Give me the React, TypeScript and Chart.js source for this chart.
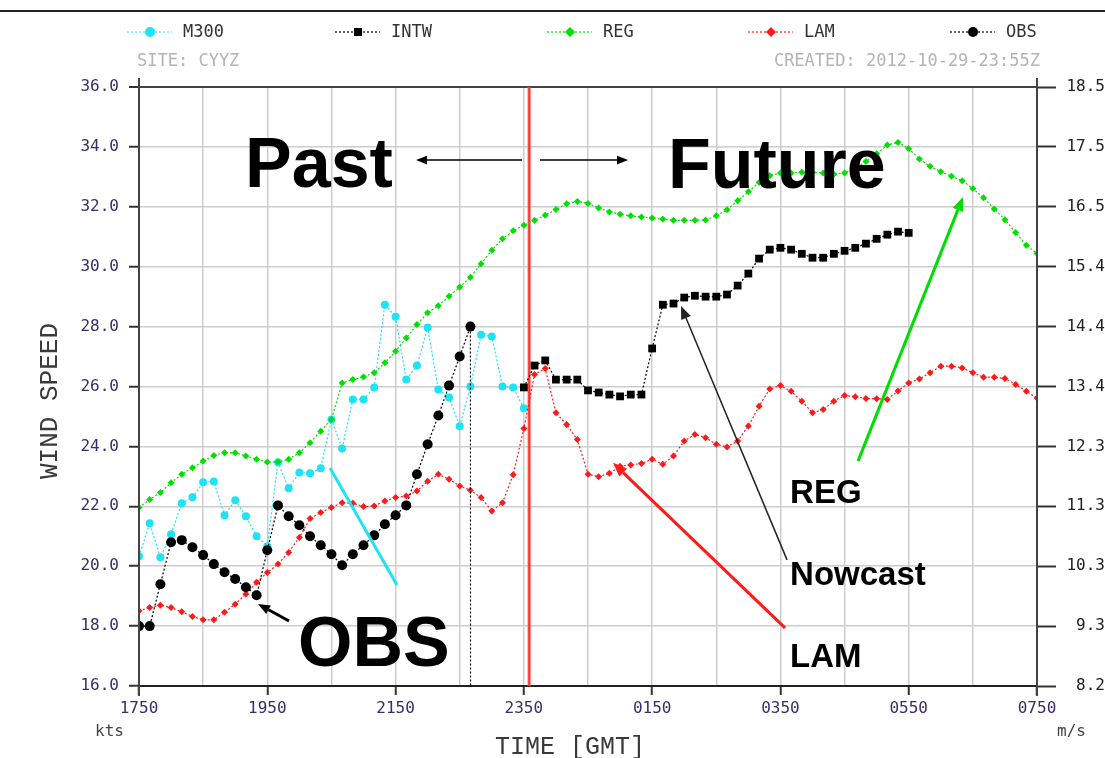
import React, { useEffect, useRef } from 'react';
import { Chart, registerables } from 'chart.js';

Chart.register(...registerables);

const W = 1105;
const H = 758;

// ---- axes / ticks ----
const STEP_MIN = 10; // every series is sampled every 10 minutes from 17:50Z
const X_MAX_H = 14;
const Y_MIN = 16;
const Y_MAX = 36;
const Y_STEP = 2;
const NOW_H = 6 + 5 / 60; // 23:55Z, "CREATED" time
const X_TICK_LABELS = ['1750', '1950', '2150', '2350', '0150', '0350', '0550', '0750'];
const LEFT_TICK_LABELS = ['16.0', '18.0', '20.0', '22.0', '24.0', '26.0', '28.0', '30.0', '32.0', '34.0', '36.0'];
const RIGHT_TICK_LABELS = ['8.2', '9.3', '10.3', '11.3', '12.3', '13.4', '14.4', '15.4', '16.5', '17.5', '18.5'];

// ---- series (kts) ----
const M300_START = 0;
const M300 = [20.33, 21.43, 20.3, 21.07, 22.1, 22.3, 22.8, 22.83, 21.7, 22.2, 21.67, 21.0, 20.67, 23.47, 22.6, 23.13, 23.1, 23.27, 24.9, 23.93, 25.57, 25.57, 25.97, 28.73, 28.33, 26.23, 26.7, 27.97, 25.9, 25.63, 24.67, 26.0, 27.73, 27.67, 26.0, 25.97, 25.27];

const INTW_START = 36;
const INTW = [25.97, 26.7, 26.87, 26.23, 26.23, 26.23, 25.87, 25.8, 25.73, 25.67, 25.73, 25.73, 27.27, 28.73, 28.77, 28.97, 29.03, 29.0, 29.0, 29.07, 29.37, 29.77, 30.27, 30.57, 30.63, 30.57, 30.43, 30.3, 30.3, 30.43, 30.53, 30.63, 30.77, 30.93, 31.07, 31.17, 31.13];

const REG_START = 0;
const REG = [21.96, 22.23, 22.46, 22.79, 23.07, 23.29, 23.51, 23.7, 23.79, 23.79, 23.68, 23.57, 23.48, 23.48, 23.57, 23.79, 24.12, 24.51, 24.9, 26.12, 26.23, 26.32, 26.46, 26.79, 27.18, 27.62, 28.07, 28.46, 28.7, 29.01, 29.32, 29.65, 30.1, 30.55, 30.93, 31.2, 31.38, 31.55, 31.72, 31.91, 32.1, 32.18, 32.11, 31.96, 31.83, 31.75, 31.7, 31.66, 31.63, 31.59, 31.55, 31.55, 31.55, 31.56, 31.7, 31.9, 32.2, 32.5, 32.81, 33.04, 33.13, 33.13, 33.15, 33.15, 33.13, 33.09, 33.13, 33.29, 33.51, 33.77, 34.06, 34.15, 33.94, 33.6, 33.35, 33.17, 33.02, 32.87, 32.61, 32.3, 31.93, 31.57, 31.14, 30.72, 30.44];

const LAM_START = 0;
const LAM = [18.51, 18.62, 18.7, 18.62, 18.48, 18.32, 18.21, 18.21, 18.46, 18.73, 19.07, 19.46, 19.79, 20.07, 20.46, 20.96, 21.59, 21.79, 21.96, 22.12, 22.1, 21.99, 22.01, 22.18, 22.29, 22.34, 22.51, 22.84, 23.07, 22.9, 22.68, 22.54, 22.29, 21.84, 22.12, 23.05, 24.6, 26.4, 26.6, 25.12, 24.73, 24.23, 23.07, 22.99, 23.1, 23.34, 23.38, 23.43, 23.57, 23.4, 23.68, 24.18, 24.4, 24.29, 24.07, 23.98, 24.18, 24.68, 25.34, 25.92, 26.03, 25.84, 25.51, 25.12, 25.23, 25.51, 25.7, 25.66, 25.6, 25.59, 25.57, 25.85, 26.12, 26.25, 26.46, 26.68, 26.68, 26.62, 26.46, 26.31, 26.31, 26.27, 26.07, 25.84, 25.62];

const OBS_START = 0;
const MISSING = -999;
const OBS = [18.0, 18.0, 19.4, 20.8, 20.87, 20.63, 20.37, 20.07, 19.8, 19.57, 19.3, 19.03, 20.53, 22.03, 21.67, 21.37, 21.0, 20.7, 20.4, 20.03, 20.4, 20.7, 21.03, 21.4, 21.7, 22.03, 23.07, 24.07, 25.03, 26.03, 27.0, 28.0, MISSING];

// ---- legend ----
const LEGEND_NAMES = ['M300', 'INTW', 'REG', 'LAM', 'OBS'];
const LEGEND_COLORS = ['#1ee3f5', '#000000', '#00e000', '#ff1a1a', '#000000'];
const LEGEND_STYLES = ['circle', 'rect', 'rectRot', 'rectRot', 'circle'];
const LEGEND_X = [150, 358, 570, 771, 973];

// ---- annotations (positions in data units: hours after 17:50, kts) ----
const BIG_TEXTS = [
  { text: 'Past', h: 1.653, v: 32.66, size: 70 },
  { text: 'Future', h: 8.247, v: 32.63, size: 70 },
  { text: 'OBS', h: 2.479, v: 16.67, size: 70 },
  { text: 'REG', h: 10.15, v: 22.11, size: 33 },
  { text: 'Nowcast', h: 10.15, v: 19.37, size: 33 },
  { text: 'LAM', h: 10.15, v: 16.63, size: 33 },
];
const ARROWS = [
  { from: [5.971, 33.56], to: [4.319, 33.56], color: '#000000', width: 1.5, head: 11 },
  { from: [6.252, 33.56], to: [7.624, 33.56], color: '#000000', width: 1.5, head: 11 },
  { from: [4.022, 19.37], to: [2.978, 23.28], color: '#1ee3f5', width: 3, head: 0 },
  { from: [2.339, 18.17], to: [1.855, 18.74], color: '#000000', width: 3, head: 12 },
  { from: [10.103, 20.21], to: [8.45, 28.69], color: '#222222', width: 1.5, head: 13 },
  { from: [10.072, 17.94], to: [7.39, 23.45], color: '#ff1a1a', width: 3, head: 14 },
  { from: [11.21, 23.51], to: [12.847, 32.33], color: '#00dd00', width: 3, head: 14 },
];

const pts = (vals: number[], start: number) =>
  vals.map((v, i) => ({ x: ((start + i) * STEP_MIN) / 60, y: v }));

const MONO = '"DejaVu Sans Mono", "Liberation Mono", monospace';
const LMONO = '"Liberation Mono", "DejaVu Sans Mono", monospace';

function drawMarker(ctx: CanvasRenderingContext2D, style: string, x: number, y: number, color: string) {
  ctx.fillStyle = color;
  ctx.beginPath();
  if (style === 'circle') {
    ctx.arc(x, y, 5, 0, Math.PI * 2);
  } else if (style === 'rect') {
    ctx.rect(x - 4, y - 4, 8, 8);
  } else {
    ctx.moveTo(x, y - 5);
    ctx.lineTo(x + 5, y);
    ctx.lineTo(x, y + 5);
    ctx.lineTo(x - 5, y);
    ctx.closePath();
  }
  ctx.fill();
}

function drawArrow(ctx: CanvasRenderingContext2D, x1: number, y1: number, x2: number, y2: number, color: string, width: number, head: number) {
  const ang = Math.atan2(y2 - y1, x2 - x1);
  const bx = x2 - head * Math.cos(ang);
  const by = y2 - head * Math.sin(ang);
  const hw = head * 0.4;
  ctx.save();
  ctx.strokeStyle = color;
  ctx.fillStyle = color;
  ctx.lineWidth = width;
  ctx.beginPath();
  ctx.moveTo(x1, y1);
  ctx.lineTo(head > 0 ? bx : x2, head > 0 ? by : y2);
  ctx.stroke();
  if (head > 0) {
    ctx.beginPath();
    ctx.moveTo(x2, y2);
    ctx.lineTo(bx + hw * Math.sin(ang), by - hw * Math.cos(ang));
    ctx.lineTo(bx - hw * Math.sin(ang), by + hw * Math.cos(ang));
    ctx.closePath();
    ctx.fill();
  }
  ctx.restore();
}

const decorPlugin = {
  id: 'decor',
  beforeDatasetsDraw(chart: any) {
    const { ctx, chartArea, scales } = chart;
    const x = scales.x.getPixelForValue(NOW_H);
    ctx.save();
    ctx.strokeStyle = 'rgba(255,90,90,0.5)';
    ctx.lineWidth = 4;
    ctx.beginPath();
    ctx.moveTo(x, chartArea.top);
    ctx.lineTo(x, chartArea.bottom);
    ctx.stroke();
    ctx.strokeStyle = '#ff3030';
    ctx.lineWidth = 2;
    ctx.beginPath();
    ctx.moveTo(x, chartArea.top);
    ctx.lineTo(x, chartArea.bottom);
    ctx.stroke();
    ctx.restore();
  },
  afterDraw(chart: any) {
    const { ctx, chartArea, scales } = chart;
    const px = (h: number) => scales.x.getPixelForValue(h);
    const py = (v: number) => scales.y.getPixelForValue(v);
    ctx.save();

    // frame line at top of picture
    ctx.strokeStyle = '#222';
    ctx.lineWidth = 2;
    ctx.beginPath();
    ctx.moveTo(0, 11);
    ctx.lineTo(W, 11);
    ctx.stroke();

    // axis lines extending past the plot
    ctx.strokeStyle = '#444';
    ctx.lineWidth = 2;
    [chartArea.left, chartArea.right].forEach((x: number) => {
      ctx.beginPath();
      ctx.moveTo(x, chartArea.top - 9);
      ctx.lineTo(x, chartArea.bottom + 10);
      ctx.stroke();
    });

    // legend
    ctx.textBaseline = 'middle';
    ctx.textAlign = 'left';
    ctx.font = `17px ${MONO}`;
    LEGEND_NAMES.forEach((name, i) => {
      const cx = LEGEND_X[i];
      const y = 32;
      ctx.save();
      ctx.strokeStyle = LEGEND_COLORS[i];
      ctx.lineWidth = 1.2;
      ctx.setLineDash([2, 2]);
      ctx.beginPath();
      ctx.moveTo(cx - 23, y);
      ctx.lineTo(cx + 22, y);
      ctx.stroke();
      ctx.restore();
      drawMarker(ctx, LEGEND_STYLES[i], cx, y, LEGEND_COLORS[i]);
      ctx.fillStyle = '#333';
      ctx.fillText(name, cx + 33, y + 1);
    });

    // site / created
    ctx.fillStyle = '#b4b4b4';
    ctx.fillText('SITE: CYYZ', chartArea.left - 2, 62);
    ctx.textAlign = 'right';
    ctx.fillText('CREATED: 2012-10-29-23:55Z', chartArea.right + 3, 62);

    // units & axis titles
    ctx.fillStyle = '#444';
    ctx.textAlign = 'left';
    ctx.font = `16px ${MONO}`;
    ctx.fillText('kts', 95, 732);
    ctx.fillText('m/s', 1057, 732);
    ctx.font = `25px ${LMONO}`;
    ctx.fillStyle = '#3a3a3a';
    ctx.textAlign = 'center';
    ctx.fillText('TIME [GMT]', 570, 747);
    ctx.save();
    ctx.translate(50, 401);
    ctx.rotate(-Math.PI / 2);
    ctx.font = `26px ${LMONO}`;
    ctx.fillText('WIND SPEED', 0, 0);
    ctx.restore();

    // big annotation texts
    ctx.textAlign = 'left';
    ctx.textBaseline = 'alphabetic';
    ctx.fillStyle = '#000';
    BIG_TEXTS.forEach((t) => {
      ctx.font = `bold ${t.size}px "Liberation Sans", Arial, sans-serif`;
      ctx.fillText(t.text, px(t.h), py(t.v));
    });

    // arrows
    ARROWS.forEach((a) => {
      drawArrow(ctx, px(a.from[0]), py(a.from[1]), px(a.to[0]), py(a.to[1]), a.color, a.width, a.head);
    });

    ctx.restore();
  },
};

export default function App() {
  const ref = useRef<HTMLCanvasElement | null>(null);

  useEffect(() => {
    if (!ref.current) return;
    const lineCommon = { borderWidth: 1.2, borderDash: [2, 2], tension: 0, pointBorderWidth: 0, yAxisID: 'y' };
    const chart = new Chart(ref.current, {
      type: 'line',
      data: {
        datasets: [
          {
            ...lineCommon,
            label: 'OBS',
            data: pts(OBS, OBS_START),
            borderColor: '#000',
            backgroundColor: '#000',
            pointStyle: 'circle',
            pointRadius: (c: any) => (c.raw && c.raw.y < Y_MIN ? 0 : 5),
            order: 0,
          },
          {
            ...lineCommon,
            label: 'LAM',
            data: pts(LAM, LAM_START),
            borderColor: '#ff1a1a',
            backgroundColor: '#ff1a1a',
            pointStyle: 'rectRot',
            pointRadius: 3.5,
            order: 1,
          },
          {
            ...lineCommon,
            label: 'REG',
            data: pts(REG, REG_START),
            borderColor: '#00e000',
            backgroundColor: '#00e000',
            pointStyle: 'rectRot',
            pointRadius: 3.5,
            order: 2,
          },
          {
            ...lineCommon,
            label: 'INTW',
            data: pts(INTW, INTW_START),
            borderColor: '#000',
            backgroundColor: '#000',
            pointStyle: 'rect',
            pointRadius: 5.5,
            order: 3,
          },
          {
            ...lineCommon,
            label: 'M300',
            data: pts(M300, M300_START),
            borderColor: '#1ee3f5',
            backgroundColor: '#1ee3f5',
            pointStyle: 'circle',
            pointRadius: 4,
            order: 4,
          },
        ] as any,
      },
      options: {
        responsive: false,
        animation: false,
        devicePixelRatio: 1,
        layout: { padding: { top: 87, left: 0, right: 0, bottom: 0 } },
        plugins: { legend: { display: false }, tooltip: { enabled: false }, title: { display: false } },
        scales: {
          x: {
            type: 'linear',
            min: 0,
            max: X_MAX_H,
            afterFit: (s: any) => { s.height = 72; },
            ticks: {
              stepSize: 1,
              autoSkip: false,
              maxRotation: 0,
              minRotation: 0,
              padding: 4,
              color: '#3a2c6c',
              font: { family: MONO, size: 16 },
              callback: (v: any) => (Number(v) % 2 === 0 ? X_TICK_LABELS[Number(v) / 2] : ''),
            },
            grid: {
              color: '#cdcdcd',
              lineWidth: 1.5,
              tickLength: 9,
              tickWidth: 2,
              tickColor: (c: any) => (c.tick && c.tick.value % 2 === 0 ? '#333' : 'rgba(0,0,0,0)'),
            },
            border: { display: true, color: '#222', width: 2 },
          },
          y: {
            position: 'left',
            min: Y_MIN,
            max: Y_MAX,
            afterFit: (s: any) => { s.width = 139; },
            ticks: {
              stepSize: Y_STEP,
              padding: 10,
              color: '#3a2c6c',
              font: { family: MONO, size: 16 },
              callback: (v: any) => LEFT_TICK_LABELS[Math.round((Number(v) - Y_MIN) / Y_STEP)],
            },
            grid: {
              color: (c: any) => (c.tick && c.tick.value === Y_MAX ? '#444' : '#cdcdcd'),
              lineWidth: (c: any) => (c.tick && c.tick.value === Y_MAX ? 2 : 1.5),
              tickLength: 10,
              tickWidth: 2,
              tickColor: '#333',
            },
            border: { display: true, color: '#444', width: 2 },
          },
          y2: {
            position: 'right',
            min: Y_MIN,
            max: Y_MAX,
            afterFit: (s: any) => { s.width = 68; },
            ticks: {
              stepSize: Y_STEP,
              padding: 10,
              crossAlign: 'far',
              color: '#222',
              font: { family: MONO, size: 16 },
              callback: (v: any) => RIGHT_TICK_LABELS[Math.round((Number(v) - Y_MIN) / Y_STEP)],
            },
            grid: { drawOnChartArea: false, tickLength: 19, tickWidth: 2, tickColor: '#333' },
            border: { display: true, color: '#444', width: 2 },
          },
        },
      } as any,
      plugins: [decorPlugin],
    });
    return () => chart.destroy();
  }, []);

  return (
    <div style={{ position: 'absolute', left: 0, top: 0, width: W, height: H, background: '#fff' }}>
      <canvas ref={ref} width={W} height={H} style={{ display: 'block' }} />
    </div>
  );
}
